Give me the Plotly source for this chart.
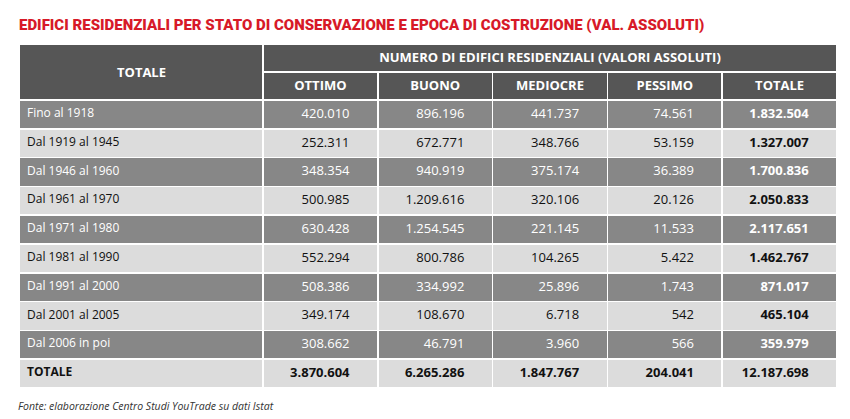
import plotly.graph_objects as go

title = "EDIFICI RESIDENZIALI PER STATO DI CONSERVAZIONE E EPOCA DI COSTRUZIONE (VAL. ASSOLUTI)"
group_header = "NUMERO DI EDIFICI RESIDENZIALI (VALORI ASSOLUTI)"
corner_header = "TOTALE"
columns = ["OTTIMO", "BUONO", "MEDIOCRE", "PESSIMO", "TOTALE"]
periods = ["Fino al 1918", "Dal 1919 al 1945", "Dal 1946 al 1960", "Dal 1961 al 1970",
           "Dal 1971 al 1980", "Dal 1981 al 1990", "Dal 1991 al 2000", "Dal 2001 al 2005",
           "Dal 2006 in poi", "TOTALE"]
ottimo = [420010, 252311, 348354, 500985, 630428, 552294, 508386, 349174, 308662, 3870604]
buono = [896196, 672771, 940919, 1209616, 1254545, 800786, 334992, 108670, 46791, 6265286]
mediocre = [441737, 348766, 375174, 320106, 221145, 104265, 25896, 6718, 3960, 1847767]
pessimo = [74561, 53159, 36389, 20126, 11533, 5422, 1743, 542, 566, 204041]
totale = [1832504, 1327007, 1700836, 2050833, 2117651, 1462767, 871017, 465104, 359979, 12187698]
source = "Fonte: elaborazione Centro Studi YouTrade su dati Istat"

W, H = 850, 419
X0, XL, X1 = 19, 263, 837
Y_TOP, Y_SUB, Y_BODY = 44, 72, 100
HEAD_H = 28
ROW_H = 28.8

HEAD_FILL = "#565656"
DARK = "#878787"
LIGHT = "#dcdcdc"
BORDER = "white"
FONT = "Open Sans"
PAD = "\u00a0" * 6

num_cols = [ottimo, buono, mediocre, pessimo, totale]
n_body = len(periods) - 1  # last row is the grand total
row_fill = [DARK if i % 2 == 0 else LIGHT for i in range(n_body)]
row_font = ["white" if i % 2 == 0 else "#111111" for i in range(n_body)]
Y_TOT = Y_BODY + n_body * ROW_H


def fmt(v):
    return f"{v:,}".replace(",", ".") + PAD


def px(x):
    return x / W


def py(y):
    return 1 - y / H


line = dict(color=BORDER, width=1.5)
head_font = dict(family=FONT, size=13, color="white", weight=700)

fig = go.Figure()

# left column: merged header + period labels
fig.add_trace(go.Table(
    domain=dict(x=[px(X0), px(XL)], y=[0, py(Y_TOP)]),
    header=dict(values=[""], fill_color=HEAD_FILL, line=line, height=2 * HEAD_H,
                font=head_font),
    cells=dict(values=[periods[:n_body]], fill_color=[row_fill], line=line, height=ROW_H,
               align="left", font=dict(family=FONT, size=12, color=[row_font])),
))

# left grand-total label
fig.add_trace(go.Table(
    domain=dict(x=[px(X0), px(XL)], y=[0, py(Y_TOT)]),
    header=dict(values=[periods[-1]], fill_color=LIGHT, line=line, height=ROW_H,
                align="left", font=dict(family=FONT, size=12, color="#111111", weight=700)),
    cells=dict(values=[[]]),
))

# top group header
fig.add_trace(go.Table(
    domain=dict(x=[px(XL), px(X1)], y=[py(Y_SUB) - 0.002, py(Y_TOP)]),
    header=dict(values=[group_header], fill_color=HEAD_FILL, line=line,
                height=HEAD_H, align="center", font=head_font),
    cells=dict(values=[[]]),
))

# numeric body
fig.add_trace(go.Table(
    domain=dict(x=[px(XL), px(X1)], y=[0, py(Y_SUB)]),
    header=dict(values=columns, fill_color=HEAD_FILL, line=line,
                height=HEAD_H, align="center", font=head_font),
    cells=dict(values=[[fmt(v) for v in col[:n_body]] for col in num_cols],
               fill_color=[row_fill] * 5, line=line, height=ROW_H, align="right",
               font=dict(family=FONT, size=13, color=[row_font] * 5,
                         weight=[400, 400, 400, 400, 700])),
))

# numeric grand-total row
fig.add_trace(go.Table(
    domain=dict(x=[px(XL), px(X1)], y=[0, py(Y_TOT)]),
    header=dict(values=[fmt(col[-1]) for col in num_cols], fill_color=LIGHT, line=line,
                height=ROW_H, align="right",
                font=dict(family=FONT, size=13, color="#111111", weight=700)),
    cells=dict(values=[[] for _ in num_cols]),
))

fig.add_annotation(x=px((X0 + XL) / 2), y=py((Y_TOP + Y_BODY) / 2), xref="paper", yref="paper",
                   text=corner_header, showarrow=False,
                   font=head_font, xanchor="center", yanchor="middle")

fig.add_annotation(x=px(16), y=py(406), xref="paper", yref="paper",
                   text=f"<i>{source}</i>", showarrow=False,
                   font=dict(family=FONT, size=10.5, color="#333333"),
                   xanchor="left", yanchor="middle")

fig.update_layout(
    width=W, height=H,
    margin=dict(l=0, r=0, t=0, b=0),
    paper_bgcolor="white",
    title=dict(text=title, x=px(X0), xanchor="left", y=py(25), yanchor="middle",
               xref="paper", yref="paper",
               font=dict(family="Roboto", size=15, color="#d71a28", weight=900)),
)

fig.write_html("out.html", config={"displayModeBar": False},
               post_script="document.body.style.margin='0';")
